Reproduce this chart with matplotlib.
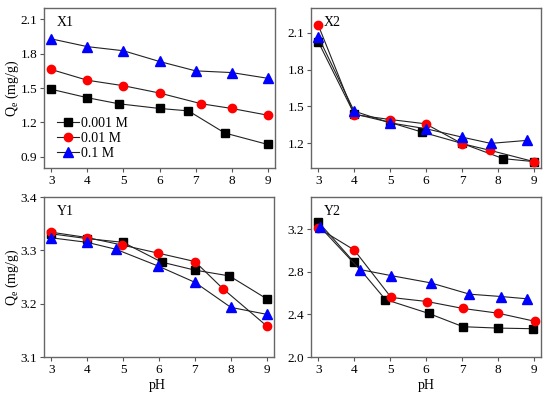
import numpy as np
import matplotlib
matplotlib.use('Agg')
import matplotlib.pyplot as plt

plt.rcParams['font.family'] = ['Liberation Serif', 'DejaVu Serif']
plt.rcParams['mathtext.fontset'] = 'custom'
plt.rcParams['mathtext.rm'] = 'Liberation Serif'
plt.rcParams['mathtext.it'] = 'Liberation Serif:italic'

labels = ['0.001 M', '0.01 M', '0.1 M']

# X1
x1_ph = [[3, 4, 4.87, 6.0, 6.8, 7.81, 9],
         [3, 4, 5, 6, 7.16, 8, 9],
         [3, 4, 5, 6, 7, 8, 9]]
x1_q = [[1.489, 1.415, 1.362, 1.321, 1.30, 1.106, 1.006],
        [1.662, 1.568, 1.52, 1.456, 1.362, 1.321, 1.262],
        [1.93, 1.862, 1.826, 1.732, 1.65, 1.635, 1.585]]

# X2
x2_ph = [[3, 4, 5, 5.9, 7, 8.15, 9],
         [3, 4, 5, 5.99, 7, 7.79, 9],
         [3, 4, 5, 6, 7, 7.8, 8.8]]
x2_q = [[2.027, 1.44, 1.37, 1.291, 1.2, 1.076, 1.052],
        [2.162, 1.434, 1.394, 1.359, 1.198, 1.143, 1.052],
        [2.068, 1.462, 1.367, 1.319, 1.251, 1.2, 1.224]]

# Y1
y1_ph = [[3, 4, 5, 6.07, 6.99, 7.96, 9],
         [3, 4, 4.97, 5.96, 7, 7.78, 9],
         [3, 4, 4.8, 5.96, 7, 8, 9]]
y1_q = [[3.331, 3.322, 3.315, 3.278, 3.263, 3.252, 3.209],
        [3.334, 3.324, 3.310, 3.295, 3.279, 3.228, 3.158],
        [3.3235, 3.315, 3.302, 3.271, 3.240, 3.193, 3.18]]

# Y2
y2_ph = [[3, 4, 4.87, 6.08, 7.03, 8.0, 8.99],
         [3, 4, 5.03, 6.03, 7.03, 8, 9.04],
         [3.05, 4.16, 5.03, 6.13, 7.21, 8.09, 8.8]]
y2_q = [[3.268, 2.888, 2.539, 2.408, 2.284, 2.271, 2.265],
        [3.209, 3.004, 2.558, 2.52, 2.455, 2.411, 2.334],
        [3.22, 2.82, 2.763, 2.695, 2.589, 2.567, 2.546]]

markers = ['s', 'o', '^']
colors = ['black', 'red', 'blue']
msizes = [5.3, 6, 6.5]

W, H = 550, 398
fig = plt.figure(figsize=(W / 100, H / 100), dpi=100)


def make_ax(l, r, t, b):
    return fig.add_axes([l / W, 1 - b / H, (r - l) / W, (b - t) / H])


panels = [
    (make_ax(44, 275, 8, 168), x1_ph, x1_q, 'X1', (0.8, 2.2), [0.9, 1.2, 1.5, 1.8, 2.1]),
    (make_ax(311, 541, 8, 168), x2_ph, x2_q, 'X2', (1.0, 2.3), [1.2, 1.5, 1.8, 2.1]),
    (make_ax(44, 274, 197, 357), y1_ph, y1_q, 'Y1', (3.1, 3.4), [3.1, 3.2, 3.3, 3.4]),
    (make_ax(311, 541, 197, 357), y2_ph, y2_q, 'Y2', (2.0, 3.5), [2.0, 2.4, 2.8, 3.2]),
]

for ax, phs, qs, name, ylim, yt in panels:
    for i in range(3):
        ax.plot(phs[i], qs[i], color='#222222', lw=0.8, marker=markers[i],
                markersize=msizes[i], markerfacecolor=colors[i],
                markeredgecolor=colors[i], label=labels[i])
    ax.set_xlim(2.8, 9.2)
    ax.set_ylim(*ylim)
    ax.set_xticks([3, 4, 5, 6, 7, 8, 9])
    ax.set_yticks(yt)
    ax.set_yticklabels(['%.1f' % v for v in yt])
    ax.tick_params(direction='out', length=3, width=0.8, labelsize=9.5,
                   color='#555555', top=False, right=False, pad=2)
    for s in ax.spines.values():
        s.set_color('#666666')
        s.set_linewidth(1.0)
    ax.text(0.055, 0.91, name, transform=ax.transAxes, fontsize=10,
            va='center', ha='left')

ax1 = panels[0][0]
ax1.legend(loc='center left', bbox_to_anchor=(0.055, 0.185), frameon=False,
           fontsize=10, handlelength=1.6, handletextpad=0.15,
           labelspacing=0.15, borderpad=0, borderaxespad=0)

fig.text(12 / W, 1 - 88 / H, r'Q$_\mathregular{e}$ (mg/g)', rotation=90,
         ha='center', va='center', fontsize=10)
fig.text(12 / W, 1 - 277 / H, r'Q$_\mathregular{e}$ (mg/g)', rotation=90,
         ha='center', va='center', fontsize=10)
fig.text(157 / W, 1 - 386 / H, 'pH', ha='center', va='center', fontsize=10)
fig.text(426 / W, 1 - 386 / H, 'pH', ha='center', va='center', fontsize=10)

fig.savefig('out.png', dpi=100)
